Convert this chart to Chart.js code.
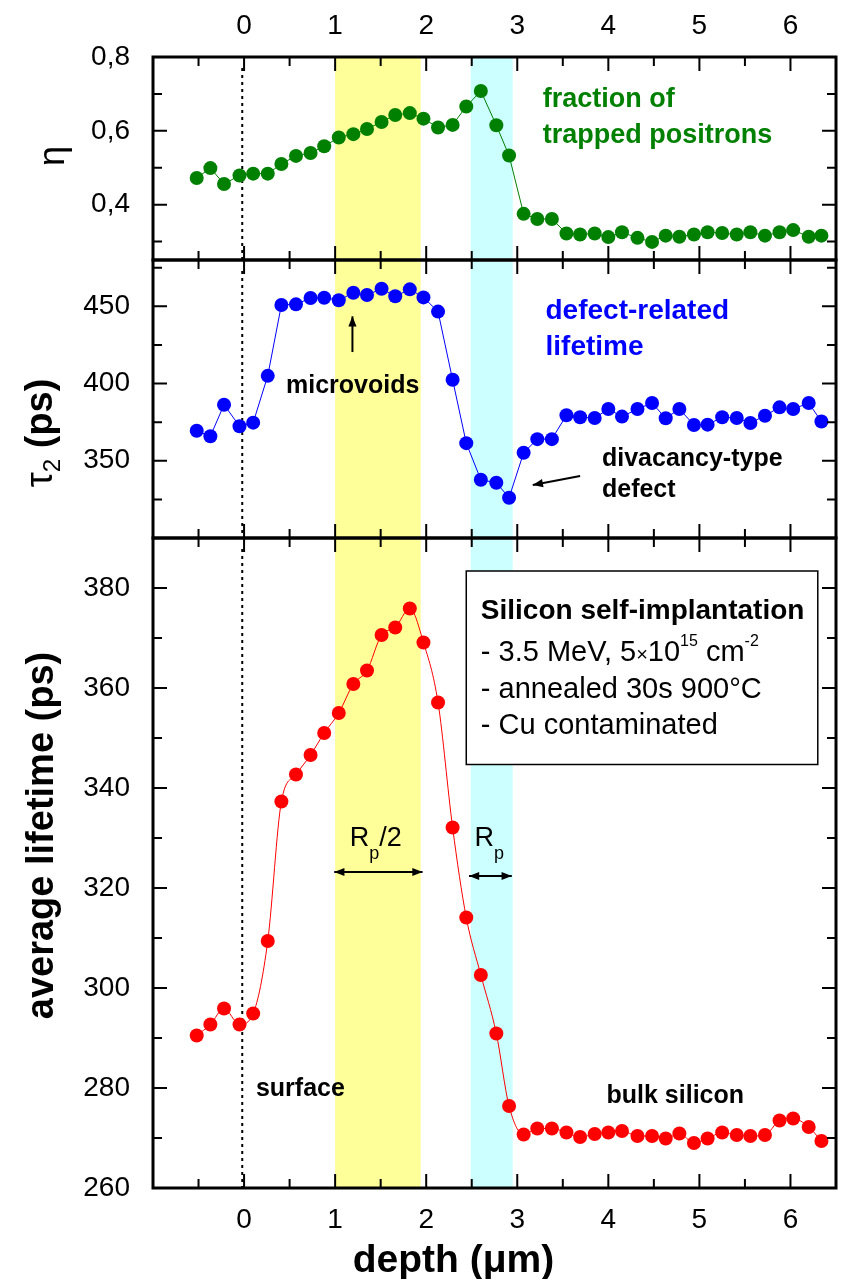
<!DOCTYPE html>
<html>
<head>
<meta charset="utf-8">
<script src="https://cdn.jsdelivr.net/npm/chart.js@4.4.1/dist/chart.umd.min.js"></script>
<style>
  html, body { margin: 0; padding: 0; background: #fff; }
</style>
</head>
<body>
<canvas id="myChart" width="843" height="1279"></canvas>
<script>

// depth of every measured point (µm), shared by the three panels
let depthArr = [-0.52, -0.37, -0.22, -0.05, 0.10, 0.26, 0.41, 0.57, 0.73, 0.88,
  1.04, 1.20, 1.35, 1.51, 1.66, 1.82, 1.97, 2.13, 2.29, 2.44,
  2.60, 2.77, 2.91, 3.07, 3.22, 3.38, 3.54, 3.69, 3.85, 4.00,
  4.15, 4.32, 4.48, 4.63, 4.78, 4.94, 5.09, 5.25, 5.41, 5.56,
  5.72, 5.88, 6.03, 6.20, 6.34];

// fraction of trapped positrons
let etaArr = [0.472, 0.499, 0.456, 0.479, 0.484, 0.484, 0.510, 0.532, 0.540, 0.558,
  0.582, 0.591, 0.605, 0.624, 0.643, 0.648, 0.633, 0.609, 0.616, 0.666,
  0.708, 0.615, 0.533, 0.375, 0.361, 0.361, 0.322, 0.319, 0.322, 0.312,
  0.325, 0.310, 0.299, 0.316, 0.313, 0.319, 0.325, 0.323, 0.319, 0.325,
  0.316, 0.325, 0.331, 0.313, 0.316];

// defect-related lifetime tau2 (ps)
let tauArr = [369.4, 365.9, 386.3, 372.4, 374.7, 405.0, 450.9, 451.3, 455.4, 455.6,
  453.9, 458.8, 457.3, 461.4, 456.5, 461.0, 455.8, 446.6, 402.5, 361.4,
  337.7, 335.8, 326.1, 355.2, 364.0, 364.0, 379.5, 378.2, 377.7, 383.5,
  378.6, 383.5, 387.4, 377.5, 383.5, 373.2, 373.4, 378.2, 377.7, 374.5,
  379.2, 384.6, 383.5, 387.4, 375.4];

// average lifetime (ps)
let avgArr = [290.5, 292.7, 295.9, 292.7, 294.9, 309.4, 337.3, 342.7, 346.6, 351.0,
  355.0, 360.8, 363.5, 370.6, 372.1, 375.9, 369.1, 357.1, 332.1, 314.1,
  302.6, 290.9, 276.4, 270.7, 271.9, 271.9, 271.1, 270.2, 270.8, 271.1,
  271.4, 270.4, 270.4, 269.9, 270.9, 269.0, 269.9, 271.1, 270.6, 270.4,
  270.6, 273.5, 273.9, 272.2, 269.4];

let depthTicks = [0, 1, 2, 3, 4, 5, 6];
let etaTicks = [0.4, 0.6, 0.8];
let tauTicks = [350, 400, 450];
let avgTicks = [260, 280, 300, 320, 340, 360, 380];

let yellowBand = [1.0, 1.94];   // Rp/2
let cyanBand = [2.49, 2.95];    // Rp

const FONT = '"Liberation Sans", Arial, Helvetica, sans-serif';

function toPoints(arr) {
  return depthArr.map((d, i) => ({ x: d, y: arr[i] }));
}

function setTicks(list) {
  return function (scale) {
    scale.ticks = list.map(v => ({ value: v }));
  };
}

function arrowHead(ctx, x1, y1, x2, y2, size) {
  let a = Math.atan2(y2 - y1, x2 - x1);
  ctx.beginPath();
  ctx.moveTo(x2, y2);
  ctx.lineTo(x2 - size * Math.cos(a - 0.38), y2 - size * Math.sin(a - 0.38));
  ctx.lineTo(x2 - size * Math.cos(a + 0.38), y2 - size * Math.sin(a + 0.38));
  ctx.closePath();
  ctx.fill();
}

function arrow(ctx, x1, y1, x2, y2, both) {
  ctx.beginPath();
  ctx.moveTo(x1, y1);
  ctx.lineTo(x2, y2);
  ctx.stroke();
  arrowHead(ctx, x1, y1, x2, y2, 11);
  if (both) arrowHead(ctx, x2, y2, x1, y1, 11);
}

// text made of runs with their own font and baseline shift
function runs(ctx, parts, x, y, align) {
  let total = 0;
  parts.forEach(p => { ctx.font = p.f; total += ctx.measureText(p.t).width; });
  let cx = align === 'center' ? x - total / 2 : x;
  ctx.textAlign = 'left';
  parts.forEach(p => {
    ctx.font = p.f;
    ctx.fillText(p.t, cx, y + (p.dy || 0));
    cx += ctx.measureText(p.t).width;
  });
}

function text(ctx, t, x, y, font, color) {
  ctx.font = font;
  ctx.fillStyle = color;
  ctx.textAlign = 'left';
  ctx.fillText(t, x, y);
}

const panels = [
  { id: 'yEta', minor: 0.1, major: 0.2 },
  { id: 'yTau', minor: 25, major: 50 },
  { id: 'yAvg', minor: 10, major: 20 }
];

const panelPlugin = {
  id: 'panelPlugin',
  beforeDatasetsDraw(chart) {
    let ctx = chart.ctx;
    let ca = chart.chartArea;
    let xs = chart.scales.x;
    ctx.save();
    ctx.fillStyle = '#ffff99';
    ctx.fillRect(xs.getPixelForValue(yellowBand[0]), ca.top,
      xs.getPixelForValue(yellowBand[1]) - xs.getPixelForValue(yellowBand[0]), ca.bottom - ca.top);
    ctx.fillStyle = '#ccffff';
    ctx.fillRect(xs.getPixelForValue(cyanBand[0]), ca.top,
      xs.getPixelForValue(cyanBand[1]) - xs.getPixelForValue(cyanBand[0]), ca.bottom - ca.top);

    // surface line
    ctx.strokeStyle = '#000';
    ctx.lineWidth = 2;
    ctx.setLineDash([3, 4]);
    let sx = xs.getPixelForValue(-0.02);
    panels.forEach(p => {
      let s = chart.scales[p.id];
      ctx.beginPath();
      ctx.moveTo(sx, s.top + 11);
      ctx.lineTo(sx, s.bottom);
      ctx.stroke();
    });
    ctx.restore();
  },
  afterDatasetsDraw(chart) {
    let ctx = chart.ctx;
    let ca = chart.chartArea;
    let xs = chart.scales.x;
    let sEta = chart.scales.yEta, sTau = chart.scales.yTau, sAvg = chart.scales.yAvg;
    ctx.save();

    // frames and inward ticks of every panel
    ctx.strokeStyle = '#000';
    panels.forEach(p => {
      let s = chart.scales[p.id];
      ctx.lineWidth = 2;
      for (let k = -2; k <= 13; k++) {
        let v = k * 0.5;
        let px = xs.getPixelForValue(v);
        if (px <= ca.left + 1 || px >= ca.right - 1) continue;
        let len = k % 2 === 0 ? 14 : 9;
        ctx.beginPath();
        ctx.moveTo(px, s.top); ctx.lineTo(px, s.top + len);
        ctx.moveTo(px, s.bottom); ctx.lineTo(px, s.bottom - len);
        ctx.stroke();
      }
      let k0 = Math.ceil(s.min / p.minor - 1e-6);
      for (let k = k0; k * p.minor <= s.max + 1e-6; k++) {
        let v = k * p.minor;
        let py = s.getPixelForValue(v);
        if (py <= s.top + 1 || py >= s.bottom - 1) continue;
        let r = v / p.major;
        let len = Math.abs(r - Math.round(r)) < 1e-6 ? 14 : 9;
        ctx.beginPath();
        ctx.moveTo(ca.left, py); ctx.lineTo(ca.left + len, py);
        ctx.moveTo(ca.right, py); ctx.lineTo(ca.right - len, py);
        ctx.stroke();
      }
      ctx.lineWidth = 3;
      ctx.strokeRect(ca.left, s.top, ca.right - ca.left, s.bottom - s.top);
    });

    // panel labels
    text(ctx, 'fraction of', xs.getPixelForValue(3.28), sEta.getPixelForValue(0.665), 'bold 27px ' + FONT, '#008000');
    text(ctx, 'trapped positrons', xs.getPixelForValue(3.28), sEta.getPixelForValue(0.568), 'bold 27px ' + FONT, '#008000');
    text(ctx, 'defect-related', xs.getPixelForValue(3.31), sTau.getPixelForValue(441.8), 'bold 28px ' + FONT, '#0000ff');
    text(ctx, 'lifetime', xs.getPixelForValue(3.31), sTau.getPixelForValue(418.5), 'bold 28px ' + FONT, '#0000ff');
    text(ctx, 'microvoids', xs.getPixelForValue(0.46), sTau.getPixelForValue(393.8), 'bold 25px ' + FONT, '#000');
    text(ctx, 'divacancy-type', xs.getPixelForValue(3.93), sTau.getPixelForValue(346.6), 'bold 25px ' + FONT, '#000');
    text(ctx, 'defect', xs.getPixelForValue(3.93), sTau.getPixelForValue(326.5), 'bold 25px ' + FONT, '#000');
    text(ctx, 'surface', xs.getPixelForValue(0.13), sAvg.getPixelForValue(278.5), 'bold 25px ' + FONT, '#000');
    text(ctx, 'bulk silicon', xs.getPixelForValue(3.98), sAvg.getPixelForValue(277.1), 'bold 25px ' + FONT, '#000');

    ctx.fillStyle = '#000';
    ctx.strokeStyle = '#000';
    ctx.lineWidth = 2;
    arrow(ctx, xs.getPixelForValue(1.19), sTau.getPixelForValue(420.4), xs.getPixelForValue(1.19), sTau.getPixelForValue(443.5), false);
    arrow(ctx, xs.getPixelForValue(3.69), sTau.getPixelForValue(340.1), xs.getPixelForValue(3.17), sTau.getPixelForValue(334.3), false);

    // Rp/2 and Rp
    let ry = sAvg.getPixelForValue(328.4);
    runs(ctx, [{ t: 'R', f: '27px ' + FONT }, { t: 'p', f: '18px ' + FONT, dy: 13 }, { t: '/2', f: '27px ' + FONT }],
      xs.getPixelForValue(1.16), ry, 'left');
    runs(ctx, [{ t: 'R', f: '27px ' + FONT }, { t: 'p', f: '18px ' + FONT, dy: 13 }],
      xs.getPixelForValue(2.53), ry, 'left');
    let ay = sAvg.getPixelForValue(323.2);
    arrow(ctx, xs.getPixelForValue(yellowBand[0] - 0.01), ay, xs.getPixelForValue(yellowBand[1] + 0.02), ay, true);
    let ay2 = sAvg.getPixelForValue(322.4);
    arrow(ctx, xs.getPixelForValue(cyanBand[0] - 0.02), ay2, xs.getPixelForValue(cyanBand[1] - 0.01), ay2, true);

    // info box
    let bx0 = xs.getPixelForValue(2.44), bx1 = xs.getPixelForValue(6.30);
    let by0 = sAvg.getPixelForValue(383.4), by1 = sAvg.getPixelForValue(344.7);
    ctx.fillStyle = '#fff';
    ctx.fillRect(bx0, by0, bx1 - bx0, by1 - by0);
    ctx.lineWidth = 1.5;
    ctx.strokeRect(bx0, by0, bx1 - bx0, by1 - by0);
    let tx = xs.getPixelForValue(2.6);
    text(ctx, 'Silicon self-implantation', tx, sAvg.getPixelForValue(373.8), 'bold 28px ' + FONT, '#000');
    runs(ctx, [
      { t: '- 3.5 MeV, 5', f: '29px ' + FONT },
      { t: '\u00d7', f: '20px ' + FONT },
      { t: '10', f: '29px ' + FONT },
      { t: '15', f: '16px ' + FONT, dy: -15 },
      { t: ' cm', f: '29px ' + FONT },
      { t: '-2', f: '16px ' + FONT, dy: -15 }
    ], tx, sAvg.getPixelForValue(365.4), 'left');
    text(ctx, '- annealed 30s 900\u00b0C', tx, sAvg.getPixelForValue(358.1), '29px ' + FONT, '#000');
    text(ctx, '- Cu contaminated', tx, sAvg.getPixelForValue(350.9), '29px ' + FONT, '#000');

    // axis titles
    ctx.fillStyle = '#000';
    ctx.textAlign = 'center';
    ctx.font = 'bold 39px ' + FONT;
    ctx.fillText('depth (\u03bcm)', xs.getPixelForValue(2.3), 1272);

    ctx.save();
    ctx.translate(53, sAvg.getPixelForValue(330.5));
    ctx.rotate(-Math.PI / 2);
    ctx.textAlign = 'center';
    ctx.font = 'bold 38px ' + FONT;
    ctx.fillText('average lifetime (ps)', 0, 0);
    ctx.restore();

    ctx.save();
    ctx.translate(52, sTau.getPixelForValue(368));
    ctx.rotate(-Math.PI / 2);
    runs(ctx, [{ t: '\u03c4', f: '38px ' + FONT }, { t: '2', f: '24px ' + FONT, dy: 8 }, { t: ' (ps)', f: 'bold 38px ' + FONT }], 0, 0, 'center');
    ctx.restore();

    ctx.save();
    ctx.translate(64, sEta.getPixelForValue(0.532));
    ctx.rotate(-Math.PI / 2);
    ctx.textAlign = 'center';
    ctx.font = '36px ' + FONT;
    ctx.fillText('\u03b7', 0, 0);
    ctx.restore();

    ctx.restore();
  }
};

function yScale(min, max, weight, list, fmt) {
  return {
    type: 'linear',
    position: 'left',
    stack: 'panels',
    stackWeight: weight,
    min: min,
    max: max,
    grid: { display: false },
    border: { display: false },
    afterBuildTicks: setTicks(list),
    afterFit: s => { s.width = 153; },
    ticks: {
      autoSkip: false,
      padding: 15,
      color: '#000',
      font: { family: FONT, size: 28 },
      callback: fmt
    }
  };
}

const config = {
  type: 'scatter',
  data: {
    datasets: [
      {
        label: 'eta',
        data: toPoints(etaArr),
        yAxisID: 'yEta',
        showLine: true,
        borderColor: '#008000',
        backgroundColor: '#008000',
        borderWidth: 1,
        pointRadius: 7,
        pointBorderWidth: 0,
        tension: 0
      },
      {
        label: 'tau2',
        data: toPoints(tauArr),
        yAxisID: 'yTau',
        showLine: true,
        borderColor: '#0000ff',
        backgroundColor: '#0000ff',
        borderWidth: 1,
        pointRadius: 7,
        pointBorderWidth: 0,
        tension: 0
      },
      {
        label: 'average',
        data: toPoints(avgArr),
        yAxisID: 'yAvg',
        showLine: true,
        borderColor: '#ff0000',
        backgroundColor: '#ff0000',
        borderWidth: 1,
        pointRadius: 7,
        pointBorderWidth: 0,
        cubicInterpolationMode: 'monotone'
      }
    ]
  },
  options: {
    responsive: false,
    animation: false,
    layout: { padding: { left: 0, right: 6, top: 0, bottom: 0 } },
    plugins: { legend: { display: false }, tooltip: { enabled: false } },
    scales: {
      x: {
        type: 'linear',
        position: 'bottom',
        min: -1,
        max: 6.5,
        grid: { display: false },
        border: { display: false },
        afterBuildTicks: setTicks(depthTicks),
        afterFit: s => { s.height = 91; },
        ticks: { autoSkip: false, maxRotation: 0, padding: 7, color: '#000', font: { family: FONT, size: 28 } }
      },
      x2: {
        type: 'linear',
        position: 'top',
        min: -1,
        max: 6.5,
        grid: { display: false },
        border: { display: false },
        afterBuildTicks: setTicks(depthTicks),
        afterFit: s => { s.height = 57; },
        ticks: { autoSkip: false, maxRotation: 0, padding: 6, color: '#000', font: { family: FONT, size: 28 } }
      },
      yAvg: yScale(260, 390, 650, avgTicks, v => String(v)),
      yTau: yScale(300, 480, 278, tauTicks, v => String(v)),
      yEta: yScale(0.25, 0.8, 203, etaTicks, v => v.toFixed(1).replace('.', ','))
    }
  },
  plugins: [panelPlugin]
};

var myChart = new Chart(document.getElementById('myChart'), config);
</script>
</body>
</html>
